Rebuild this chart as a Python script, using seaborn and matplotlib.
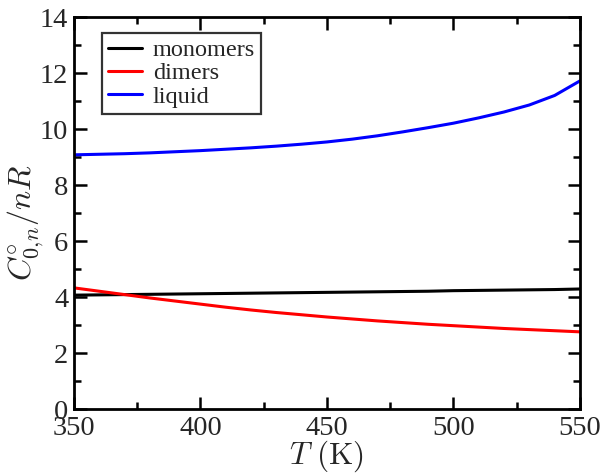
import matplotlib
matplotlib.use("Agg")
import matplotlib.pyplot as plt
import seaborn as sns
import pandas as pd
from matplotlib.ticker import MultipleLocator

temps = [350, 360, 370, 380, 390, 400, 410, 420, 430, 440, 450,
         460, 470, 480, 490, 500, 510, 520, 530, 540, 550]
monomers = [4.07, 4.08, 4.09, 4.10, 4.11, 4.12, 4.13, 4.14, 4.15, 4.16, 4.17,
            4.18, 4.19, 4.20, 4.21, 4.23, 4.24, 4.25, 4.26, 4.27, 4.29]
dimers = [4.33, 4.21, 4.09, 3.97, 3.86, 3.75, 3.64, 3.54, 3.45, 3.37, 3.29,
          3.22, 3.15, 3.09, 3.03, 2.98, 2.93, 2.88, 2.84, 2.80, 2.76]
liquid = [9.08, 9.10, 9.12, 9.15, 9.19, 9.23, 9.28, 9.33, 9.39, 9.46, 9.54,
          9.64, 9.76, 9.90, 10.05, 10.21, 10.40, 10.61, 10.86, 11.20, 11.72]
series = ["monomers", "dimers", "liquid"]
colors = ["black", "red", "blue"]

df = pd.concat([
    pd.DataFrame({"T": temps, "C": vals, "series": name})
    for name, vals in zip(series, [monomers, dimers, liquid])
])

sns.set_style("ticks")
plt.rcParams["font.family"] = ["Liberation Serif", "DejaVu Serif"]
plt.rcParams["mathtext.fontset"] = "cm"

fig = plt.figure(figsize=(6.01, 4.73), dpi=100)
ax = fig.add_axes([0.123, 0.135, 0.842, 0.829])

sns.lineplot(data=df, x="T", y="C", hue="series", palette=colors,
             linewidth=2.2, ax=ax)

ax.set_xlim(350, 550)
ax.set_ylim(0, 14)
ax.xaxis.set_major_locator(MultipleLocator(50))
ax.xaxis.set_minor_locator(MultipleLocator(25))
ax.yaxis.set_major_locator(MultipleLocator(2))
ax.yaxis.set_minor_locator(MultipleLocator(1))
ax.tick_params(which="both", direction="in", top=True, right=True,
               width=1.8, color="black")
ax.tick_params(which="major", length=9, labelsize=20.5)
ax.tick_params(which="minor", length=5)
ax.tick_params(axis="x", pad=5)
ax.tick_params(axis="y", pad=4)
for s in ax.spines.values():
    s.set_linewidth(2)
    s.set_color("black")

ax.set_xlabel(r"$T\ \mathrm{(K)}$", fontsize=22.5)
ax.xaxis.set_label_coords(0.5, -0.076)
ax.set_ylabel(r"$C^{\circ}_{0{,}n}/nR$", fontsize=23)
ax.yaxis.set_label_coords(-0.056, 0.475)

leg = ax.legend(loc="upper left", bbox_to_anchor=(0.055, 0.959),
                fontsize=17.5, frameon=True, fancybox=False,
                handlelength=1.4, borderpad=0.25, labelspacing=0.05,
                handletextpad=0.45, borderaxespad=0)
leg.get_frame().set_edgecolor("black")
leg.get_frame().set_linewidth(1.6)

fig.savefig("out.png", dpi=100)
